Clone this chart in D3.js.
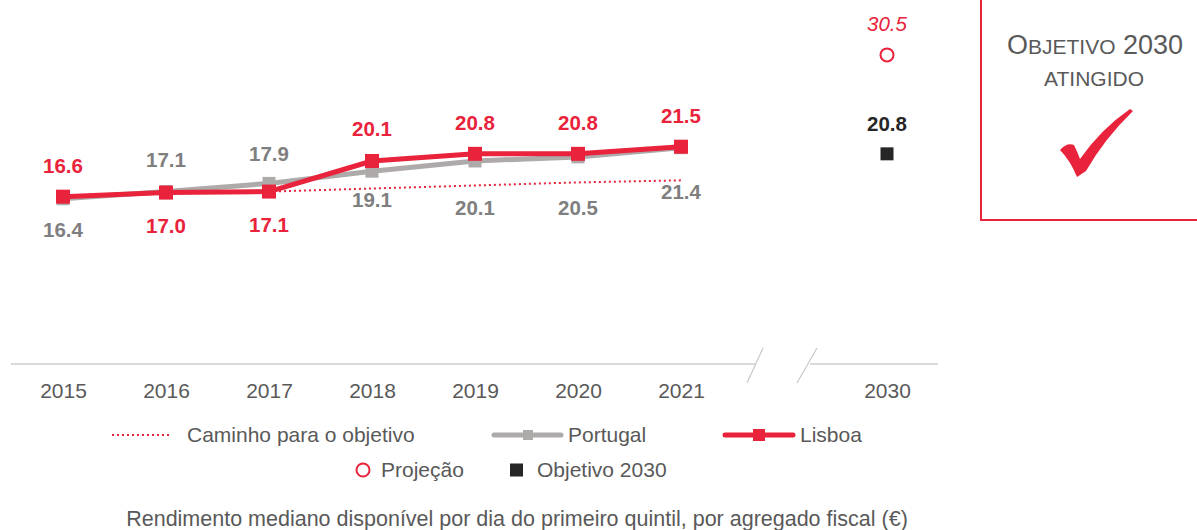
<!DOCTYPE html>
<html>
<head>
<meta charset="utf-8">
<script src="https://cdn.jsdelivr.net/npm/d3@7"></script>
<style>
  html, body { margin: 0; padding: 0; background: #fff; }
  svg { display: block; font-family: Arial, "Liberation Sans", sans-serif; }
</style>
</head>
<body>
<svg id="chart" width="1197" height="530"></svg>
<script>
// ---- data ----
const years = ["2015", "2016", "2017", "2018", "2019", "2020", "2021"];
const targetYear = "2030";
const portugal = [16.4, 17.1, 17.9, 19.1, 20.1, 20.5, 21.4];
const lisboa = [16.6, 17.0, 17.1, 20.1, 20.8, 20.8, 21.5];
const pathYears = ["2017", "2018", "2019", "2020", "2021"];
const pathValues = [17.1, 17.4, 17.7, 18.0, 18.2];
const projection2030 = 30.5;
const objective2030 = 20.8;
const legendLabels = ["Caminho para o objetivo", "Portugal", "Lisboa", "Projeção", "Objetivo 2030"];
const footerText = "Rendimento mediano disponível por dia do primeiro quintil, por agregado fiscal (€)";

// label placement (layout only)
const lisboaLabelDy = [-31, 33, 33, -32, -31, -31, -31];
const portugalLabelDy = [31, -32, -30, 29, 47, 51, 44];

// ---- styles ----
const RED = "#e8233b";
const GRAY = "#aeaaaa";
const GRAY_TXT = "#7f7f7f";
const TXT = "#595959";
const DARK = "#262626";

const svg = d3.select("#chart");

const slots = [...years, "gap", targetYear];
const x = d3.scalePoint().domain(slots).range([11.5, 938.5]).padding(0.5);
const y = d3.scaleLinear().domain([0, 35]).range([366, 9]);

// ---- axis ----
const axisY = 364;
const axis = d3.axisBottom(x).tickSize(0).tickPadding(19)
  .tickFormat(d => d === "gap" ? "" : d);
const gAxis = svg.append("g").attr("transform", `translate(0,${axisY})`).call(axis);
gAxis.select(".domain").remove();
gAxis.selectAll("text").attr("font-size", 21).attr("fill", TXT).attr("font-family", "Arial, 'Liberation Sans', sans-serif");

const gapX = x("gap");
svg.append("line").attr("x1", 11).attr("x2", gapX - 29).attr("y1", axisY).attr("y2", axisY)
  .attr("stroke", "#d9d9d9").attr("stroke-width", 2);
svg.append("line").attr("x1", gapX + 26).attr("x2", 938).attr("y1", axisY).attr("y2", axisY)
  .attr("stroke", "#d9d9d9").attr("stroke-width", 2);
[[-37, -21], [13, 33]].forEach(([a, b]) => {
  svg.append("line").attr("x1", gapX + a).attr("y1", axisY + 19)
    .attr("x2", gapX + b).attr("y2", axisY - 16)
    .attr("stroke", "#c8c8c8").attr("stroke-width", 1.2);
});

// ---- path to objective ----
const line = d3.line().x(d => x(d[0])).y(d => y(d[1]));
svg.append("path")
  .datum(pathYears.map((yr, i) => [yr, pathValues[i]]))
  .attr("d", line).attr("fill", "none")
  .attr("stroke", RED).attr("stroke-width", 2).attr("stroke-dasharray", "2,3");

// ---- Portugal ----
const ptData = years.map((yr, i) => [yr, portugal[i]]);
svg.append("path").datum(ptData).attr("d", line).attr("fill", "none")
  .attr("stroke", GRAY).attr("stroke-width", 5).attr("stroke-linejoin", "round");
svg.selectAll("rect.pt").data(ptData).enter().append("rect").attr("class", "pt")
  .attr("x", d => x(d[0]) - 6.5).attr("y", d => y(d[1]) - 6.5)
  .attr("width", 13).attr("height", 13).attr("fill", GRAY);

// ---- Lisboa ----
const lxData = years.map((yr, i) => [yr, lisboa[i]]);
svg.append("path").datum(lxData).attr("d", line).attr("fill", "none")
  .attr("stroke", RED).attr("stroke-width", 5).attr("stroke-linejoin", "round");
svg.selectAll("rect.lx").data(lxData).enter().append("rect").attr("class", "lx")
  .attr("x", d => x(d[0]) - 7).attr("y", d => y(d[1]) - 7)
  .attr("width", 14).attr("height", 14).attr("fill", RED);

// ---- labels ----
function fmt(v) { return v.toFixed(1); }
svg.selectAll("text.ptl").data(ptData).enter().append("text").attr("class", "ptl")
  .attr("x", d => x(d[0])).attr("y", (d, i) => y(d[1]) + portugalLabelDy[i])
  .attr("dy", "0.35em").attr("text-anchor", "middle")
  .attr("font-size", 20.5).attr("font-weight", "bold").attr("fill", GRAY_TXT)
  .text(d => fmt(d[1]));
svg.selectAll("text.lxl").data(lxData).enter().append("text").attr("class", "lxl")
  .attr("x", d => x(d[0])).attr("y", (d, i) => y(d[1]) + lisboaLabelDy[i])
  .attr("dy", "0.35em").attr("text-anchor", "middle")
  .attr("font-size", 20.5).attr("font-weight", "bold").attr("fill", RED)
  .text(d => fmt(d[1]));

// ---- 2030 ----
const x30 = x(targetYear);
svg.append("circle").attr("cx", x30).attr("cy", y(projection2030)).attr("r", 6.5)
  .attr("fill", "none").attr("stroke", RED).attr("stroke-width", 2);
svg.append("text").attr("x", x30).attr("y", y(projection2030) - 31).attr("dy", "0.35em")
  .attr("text-anchor", "middle").attr("font-size", 20.5).attr("font-style", "italic")
  .attr("fill", RED).text(fmt(projection2030));
svg.append("rect").attr("x", x30 - 6.5).attr("y", y(objective2030) - 6.5)
  .attr("width", 13).attr("height", 13).attr("fill", DARK);
svg.append("text").attr("x", x30).attr("y", y(objective2030) - 30).attr("dy", "0.35em")
  .attr("text-anchor", "middle").attr("font-size", 20.5).attr("font-weight", "bold")
  .attr("fill", DARK).text(fmt(objective2030));

// ---- objective box ----
svg.append("rect").attr("x", 981).attr("y", -5).attr("width", 240).attr("height", 225)
  .attr("fill", "none").attr("stroke", RED).attr("stroke-width", 2);
const t1 = svg.append("text").attr("x", 1095).attr("y", 54).attr("text-anchor", "middle").attr("fill", TXT);
t1.append("tspan").attr("font-size", 27).text("O");
t1.append("tspan").attr("font-size", 21).text("BJETIVO");
t1.append("tspan").attr("font-size", 27).text(" 2030");
svg.append("text").attr("x", 1094).attr("y", 86).attr("text-anchor", "middle")
  .attr("fill", TXT).attr("font-size", 21).text("ATINGIDO");
svg.append("path")
  .attr("d", "M1060,150 Q1067,142 1074,145 Q1077,151 1080,159 Q1101,129 1130,109 L1133,111 Q1105,138 1086,171 L1077,177 Q1070,160 1060,150 Z")
  .attr("fill", RED);

// ---- legend ----
const lg = svg.append("g").attr("font-size", 21).attr("fill", TXT);
const r1 = 435, r2 = 470;
lg.append("line").attr("x1", 112).attr("x2", 172).attr("y1", r1).attr("y2", r1)
  .attr("stroke", RED).attr("stroke-width", 2).attr("stroke-dasharray", "2,3");
lg.append("text").attr("x", 187).attr("y", r1).attr("dy", "0.35em").text(legendLabels[0]);

lg.append("line").attr("x1", 494).attr("x2", 561).attr("y1", r1).attr("y2", r1)
  .attr("stroke", GRAY).attr("stroke-width", 5).attr("stroke-linecap", "round");
lg.append("rect").attr("x", 523).attr("y", r1 - 5).attr("width", 10).attr("height", 10).attr("fill", GRAY);
lg.append("text").attr("x", 568).attr("y", r1).attr("dy", "0.35em").text(legendLabels[1]);

lg.append("line").attr("x1", 725).attr("x2", 793).attr("y1", r1).attr("y2", r1)
  .attr("stroke", RED).attr("stroke-width", 5).attr("stroke-linecap", "round");
lg.append("rect").attr("x", 753).attr("y", r1 - 6).attr("width", 12).attr("height", 12).attr("fill", RED);
lg.append("text").attr("x", 800).attr("y", r1).attr("dy", "0.35em").text(legendLabels[2]);

lg.append("circle").attr("cx", 363).attr("cy", r2).attr("r", 6.5)
  .attr("fill", "none").attr("stroke", RED).attr("stroke-width", 2);
lg.append("text").attr("x", 381).attr("y", r2).attr("dy", "0.35em").text(legendLabels[3]);
lg.append("rect").attr("x", 510).attr("y", r2 - 6.5).attr("width", 13).attr("height", 13).attr("fill", DARK);
lg.append("text").attr("x", 537).attr("y", r2).attr("dy", "0.35em").text(legendLabels[4]);

// ---- footer ----
svg.append("text").attr("x", 517).attr("y", 518).attr("dy", "0.35em").attr("text-anchor", "middle")
  .attr("font-size", 21.5).attr("fill", TXT).text(footerText);
</script>
</body>
</html>
